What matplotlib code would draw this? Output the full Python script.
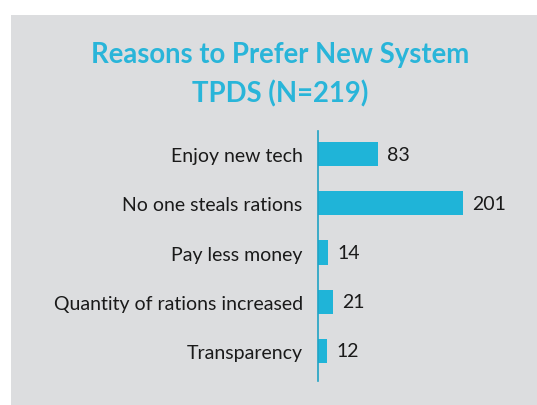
import matplotlib.pyplot as plt
from matplotlib.patches import Rectangle

categories = ['Enjoy new tech', 'No one steals rations', 'Pay less money',
              'Quantity of rations increased', 'Transparency']
counts = [83, 201, 14, 21, 12]
title = 'Reasons to Prefer New System\nTPDS (N=219)'

bar_color = '#1fb4d8'
panel_color = '#dcdddf'

plt.rcParams['font.family'] = ['Lato', 'DejaVu Sans']

W, H = 537, 406
fig = plt.figure(figsize=(W / 100, H / 100), dpi=100)
fig.patch.set_facecolor('white')
fig.add_artist(Rectangle((11 / W, 0), 1, 1 - 16 / H, transform=fig.transFigure,
                         facecolor=panel_color, edgecolor='none', zorder=0))

ax = fig.add_axes([318 / W, (H - 382) / H, 200 / W, 250 / H])
ax.set_facecolor('none')
ypos = list(range(len(categories)))
ax.barh(ypos, counts, height=0.49, color=bar_color, zorder=2)
for y, v in zip(ypos, counts):
    ax.text(v + 13, y, str(v), va='center', ha='left', fontsize=14, color='#1a1a1a')

ax.set_xlim(0, 201 * 200 / 145)
ax.set_ylim(4.61, -0.47)
ax.set_yticks(ypos)
ax.set_yticklabels(categories, fontsize=14, color='#1a1a1a')
ax.tick_params(axis='y', length=0, pad=11)
ax.set_xticks([])
for s in ['top', 'right', 'bottom']:
    ax.spines[s].set_visible(False)
ax.spines['left'].set_color('#1fa3c4')
ax.spines['left'].set_linewidth(1.2)

fig.text(280 / W, 1 - 75 / H, title, ha='center', va='center', fontsize=19.8,
         fontweight='bold', color='#29b5d9', linespacing=1.55)

fig.savefig('out.png', dpi=100)
